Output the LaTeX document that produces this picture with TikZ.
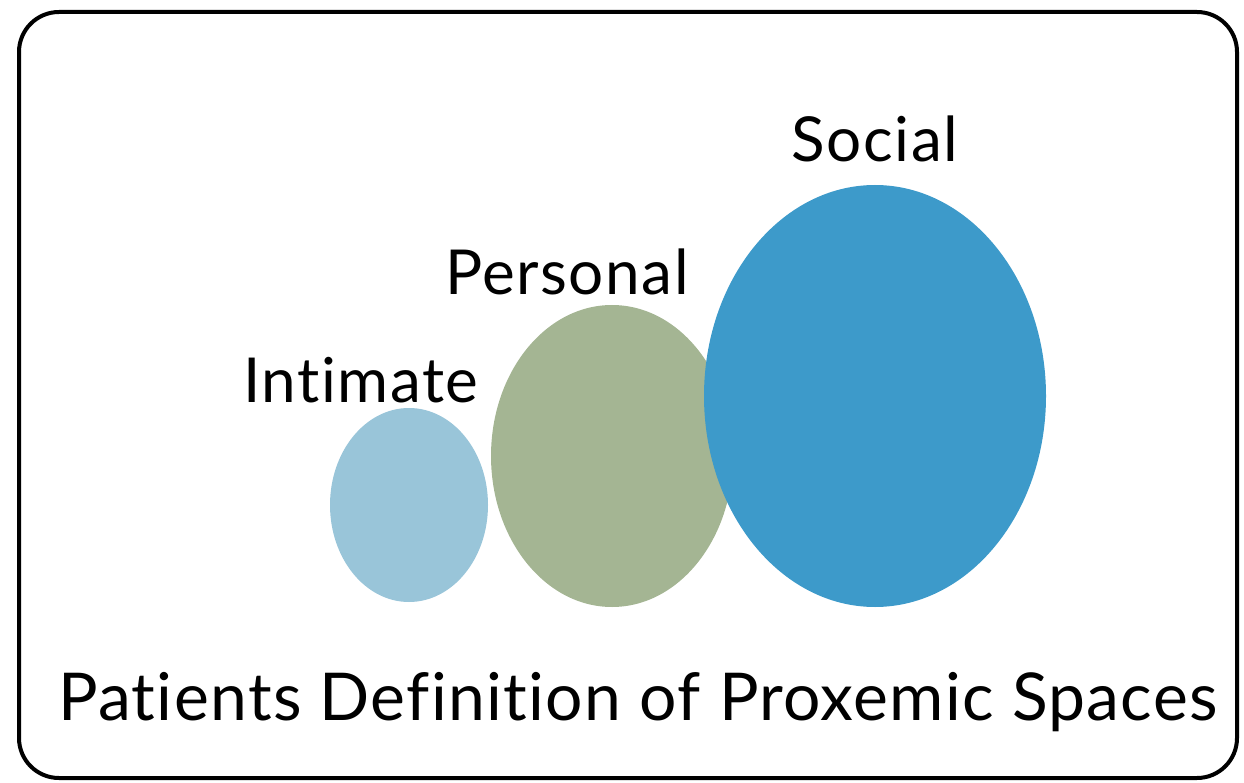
\documentclass[tikz,border=0pt]{standalone}
\usepackage{fontspec}
\setmainfont{Lato}[Ligatures={NoCommon}]
\newfontfamily\lblfont{Lato}[Ligatures={NoCommon},LetterSpace=2.5]
\newfontfamily\ttlfont{Lato}[Ligatures={NoCommon},LetterSpace=2]
\definecolor{intc}{HTML}{99C5D9}
\definecolor{perc}{HTML}{A4B593}
\definecolor{socc}{HTML}{3D9ACA}
\begin{document}
\begin{tikzpicture}[x=1pt,y=-1pt,
  lbl/.style={font=\lblfont\fontsize{62}{70}\selectfont,text=black,inner sep=0pt,anchor=base}]
\useasboundingbox (0,0) rectangle (1244,783);
\draw[line width=4pt,rounded corners=40pt] (19,12) rectangle (1237,778);
\fill[intc] (409,505) ellipse [x radius=79, y radius=97];
\fill[perc] (612,456) ellipse [x radius=121, y radius=151];
\fill[socc] (875,396) ellipse [x radius=171, y radius=211];
\node[lbl] (soc) at (875,162) {Social};
\node[lbl] (per) at (567,295) {Personal};
\node[lbl] (int) at (361,402) {Intimate};
\node[lbl,font=\ttlfont\fontsize{66}{74}\selectfont] (title) at (638,720) {Patients Definition of Proxemic Spaces};
\end{tikzpicture}
\end{document}
